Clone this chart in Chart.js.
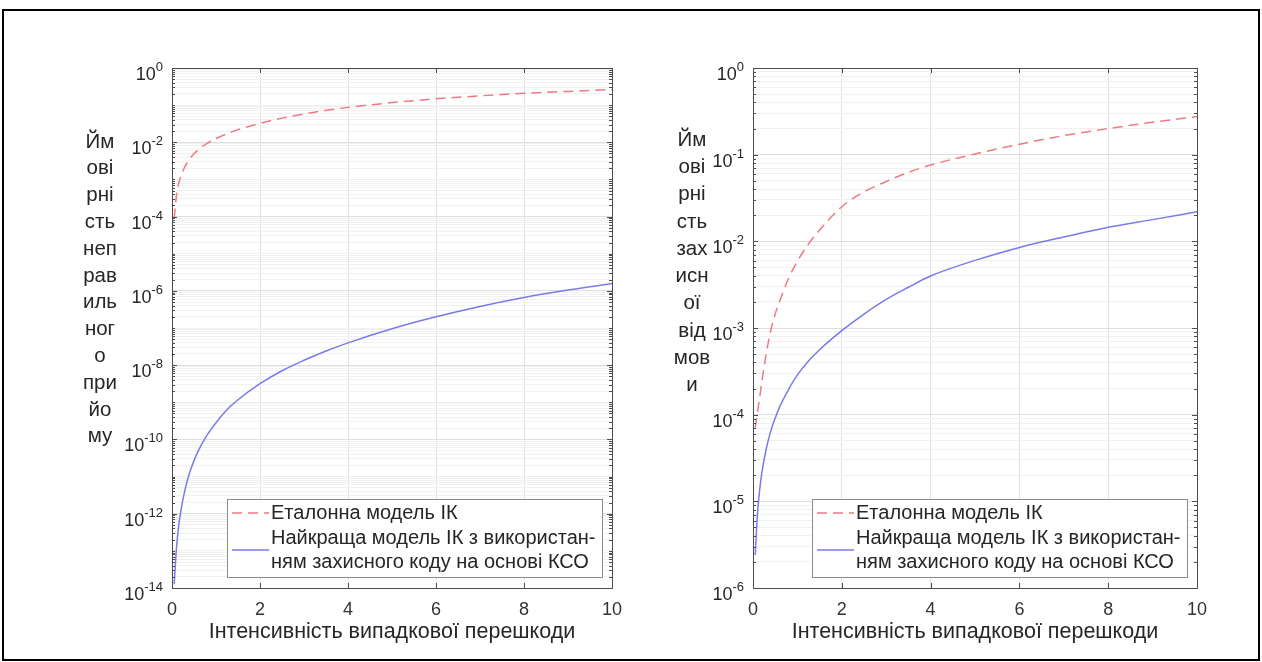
<!DOCTYPE html>
<html>
<head>
<meta charset="utf-8">
<script src="https://cdn.jsdelivr.net/npm/chart.js@4.4.1/dist/chart.umd.min.js"></script>
<style>
  html, body { margin: 0; padding: 0; background: #fff; }
  body { width: 1262px; height: 662px; position: relative; overflow: hidden; }
  .wrap { position: absolute; top: 0; height: 662px; }
  #frame { position: absolute; left: 2px; top: 9px; width: 1258px; height: 652px; box-sizing: border-box; border: 2px solid #000; pointer-events: none; }
</style>
</head>
<body>
<div class="wrap" style="left:0;width:640px"><canvas id="leftChart" width="640" height="662"></canvas></div>
<div class="wrap" style="left:640px;width:622px"><canvas id="rightChart" width="622" height="662"></canvas></div>
<div id="frame"></div>
<script>
// Values
const xValues = [0.05, 0.1, 0.15, 0.2, 0.3, 0.4, 0.5, 0.6, 0.8, 1, 1.25, 1.5, 2, 2.5, 3, 3.5, 4, 5, 6, 7, 8, 9, 10];

// left plot: probability of incorrect reception
const errRefModel = [8.9e-5, 3.55e-4, 7.59e-4, 1.2e-3, 2.29e-3, 3.55e-3, 4.9e-3, 6.31e-3, 9.33e-3, 1.26e-2, 1.7e-2, 2.19e-2,
  3.24e-2, 4.47e-2, 5.75e-2, 7.24e-2, 8.71e-2, 0.117, 0.148, 0.178, 0.209, 0.234, 0.263];
const errBestModel = [1.26e-14, 1.12e-13, 4.47e-13, 1.17e-12, 4.68e-12, 1.26e-11, 2.69e-11, 5.01e-11, 1.32e-10, 2.82e-10, 6.31e-10, 1.17e-9,
  3.16e-9, 7.08e-9, 1.35e-8, 2.4e-8, 3.98e-8, 9.55e-8, 2.0e-7, 3.8e-7, 6.61e-7, 1.05e-6, 1.58e-6];

// right plot: probability of protective refusal
const refusalRefModel = [7.08e-5, 1.05e-4, 1.58e-4, 2.4e-4, 5.13e-4, 9.33e-4, 1.45e-3, 2.04e-3, 3.72e-3, 5.89e-3, 9.33e-3, 1.35e-2,
  2.51e-2, 3.72e-2, 4.9e-2, 6.24e-2, 7.59e-2, 0.102, 0.132, 0.166, 0.2, 0.237, 0.275];
const refusalBestModel = [2.4e-6, 7.08e-6, 1.35e-5, 2.14e-5, 4.07e-5, 6.46e-5, 9.12e-5, 1.23e-4, 1.95e-4, 2.88e-4, 4.17e-4, 5.62e-4,
  9.33e-4, 1.45e-3, 2.14e-3, 2.95e-3, 3.98e-3, 6.03e-3, 8.51e-3, 1.12e-2, 1.45e-2, 1.78e-2, 2.19e-2];

const xTicks = [0, 2, 4, 6, 8, 10];
const leftExponents = [0, -2, -4, -6, -8, -10, -12, -14];
const rightExponents = [0, -1, -2, -3, -4, -5, -6];
const leftYLabel = ['Йм', 'ові', 'рні', 'сть', 'неп', 'рав', 'иль', 'ног', 'о', 'при', 'йо', 'му'];
const rightYLabel = ['Йм', 'ові', 'рні', 'сть', 'зах', 'исн', 'ої', 'від', 'мов', 'и'];
const xTitle = 'Інтенсивність випадкової перешкоди';
const refLabel = ['Еталонна модель ІК'];
const bestLabel = ['Найкраща модель ІК з використан-', 'ням захисного коду на основі КСО'];

const FONT = '"Liberation Sans", Arial, sans-serif';
const TEXT = '#262626';
const RED = 'rgb(238,122,132)';
const BLUE = 'rgb(122,122,236)';

// all decade and sub-decade values between two exponents
function logTickValues(minExp, maxExp) {
  const out = [];
  for (let e = minExp; e < maxExp; e++) {
    for (let m = 1; m <= 9; m++) out.push(Number(m + 'e' + e));
  }
  out.push(Number('1e' + maxExp));
  return out;
}

function isLabelled(v, exps) {
  const e = Math.log10(v);
  return Math.abs(e - Math.round(e)) < 1e-6 && exps.includes(Math.round(e));
}

// box, inward ticks, exponent labels, chunked y label and legend
const matlabAxes = {
  id: 'matlabAxes',
  afterDraw(chart, args, o) {
    const { ctx, chartArea: ca } = chart;
    const ys = chart.scales.y, xs = chart.scales.x;
    ctx.save();

    // inward tick marks
    ctx.strokeStyle = '#4d4d4d';
    ctx.lineWidth = 1;
    ctx.beginPath();
    ys.ticks.forEach(t => {
      const py = Math.round(ys.getPixelForValue(t.value)) + 0.5;
      const len = isLabelled(t.value, o.exps) ? 5 : 3;
      ctx.moveTo(ca.left, py); ctx.lineTo(ca.left + len, py);
      ctx.moveTo(ca.right, py); ctx.lineTo(ca.right - len, py);
    });
    xTicks.forEach(v => {
      const px = Math.round(xs.getPixelForValue(v)) + 0.5;
      ctx.moveTo(px, ca.bottom); ctx.lineTo(px, ca.bottom - 5);
      ctx.moveTo(px, ca.top); ctx.lineTo(px, ca.top + 5);
    });
    ctx.stroke();
    ctx.strokeRect(Math.round(ca.left) + 0.5, Math.round(ca.top) + 0.5, Math.round(ca.width), Math.round(ca.height));

    // 10^n tick labels
    ctx.fillStyle = TEXT;
    ctx.textAlign = 'right';
    ctx.textBaseline = 'alphabetic';
    o.exps.forEach(e => {
      const py = ys.getPixelForValue(Number('1e' + e));
      const right = ca.left - 9;
      ctx.font = '13px ' + FONT;
      const w = ctx.measureText(String(e)).width;
      ctx.fillText(String(e), right, py + 3);
      ctx.font = '18px ' + FONT;
      ctx.fillText('10', right - w, py + 12);
    });

    // y label, broken into short pieces
    ctx.font = '20.5px ' + FONT;
    ctx.textAlign = 'center';
    ctx.textBaseline = 'middle';
    o.yLabel.forEach((s, i) => ctx.fillText(s, ca.left - o.yLabelOffset, o.yLabelTop + i * o.yLabelStep));

    // legend
    const W = 375, H = 78;
    const L = ca.right - 10 - W, T = ca.bottom - 11 - H;
    ctx.fillStyle = '#fff';
    ctx.fillRect(L, T, W, H);
    ctx.strokeStyle = '#8c8c8c';
    ctx.strokeRect(Math.round(L) + 0.5, Math.round(T) + 0.5, W, H);
    const ds = chart.data.datasets;
    const samples = [[ds[0], T + 14, refLabel, T + 14], [ds[1], T + 51, bestLabel, T + 39]];
    samples.forEach(([d, sy, lines, ty]) => {
      ctx.strokeStyle = d.borderColor;
      ctx.lineWidth = d.borderWidth;
      ctx.setLineDash(d.borderDash || []);
      ctx.beginPath();
      ctx.moveTo(L + 5, sy); ctx.lineTo(L + 42, sy);
      ctx.stroke();
      ctx.setLineDash([]);
      ctx.fillStyle = TEXT;
      ctx.font = '20px ' + FONT;
      ctx.textAlign = 'left';
      lines.forEach((s, i) => ctx.fillText(s, L + 44, ty + i * 24.5));
    });
    ctx.restore();
  }
};

function makeChart(id, refData, bestData, exps, minExp, yWidth, rightPad, yLabel, yLabelOffset, yLabelTop, yLabelStep) {
  const toPoints = arr => xValues.map((x, i) => ({ x, y: arr[i] }));
  return new Chart(document.getElementById(id), {
    type: 'line',
    data: {
      datasets: [
        { label: refLabel.join(' '), data: toPoints(refData), borderColor: RED, borderWidth: 1.5, borderDash: [10, 6],
          pointRadius: 0, cubicInterpolationMode: 'monotone', fill: false },
        { label: bestLabel.join(' '), data: toPoints(bestData), borderColor: BLUE, borderWidth: 1.5,
          pointRadius: 0, cubicInterpolationMode: 'monotone', fill: false }
      ]
    },
    options: {
      responsive: false,
      animation: false,
      layout: { padding: { top: 68, right: rightPad, bottom: 0, left: 0 } },
      plugins: {
        legend: { display: false },
        tooltip: { enabled: false },
        matlabAxes: { exps, yLabel, yLabelOffset, yLabelTop, yLabelStep }
      },
      scales: {
        x: {
          type: 'linear', min: 0, max: 10,
          ticks: { stepSize: 2, padding: 11, color: '#333', font: { family: FONT, size: 18 } },
          grid: { color: '#e2e2e2', drawTicks: false },
          border: { display: false },
          title: { display: true, text: xTitle, color: TEXT, font: { family: FONT, size: 21.5 }, padding: { top: 0, bottom: 17 } },
          afterFit: s => { s.height = 74; }
        },
        y: {
          type: 'logarithmic', min: Number('1e' + minExp), max: 1,
          ticks: { display: false },
          afterBuildTicks: s => { s.ticks = logTickValues(minExp, 0).map(v => ({ value: v })); },
          grid: {
            drawTicks: false,
            color: c => isLabelled(c.tick.value, exps) ? '#dedede' : '#f1f1f1'
          },
          border: { display: false },
          afterFit: s => { s.width = yWidth; }
        }
      }
    },
    plugins: [matlabAxes]
  });
}

makeChart('leftChart', errRefModel, errBestModel, leftExponents, -14, 172, 28, leftYLabel, 72, 142, 26.8);
makeChart('rightChart', refusalRefModel, refusalBestModel, rightExponents, -6, 113, 65, rightYLabel, 61, 140, 27.3);
</script>
</body>
</html>
